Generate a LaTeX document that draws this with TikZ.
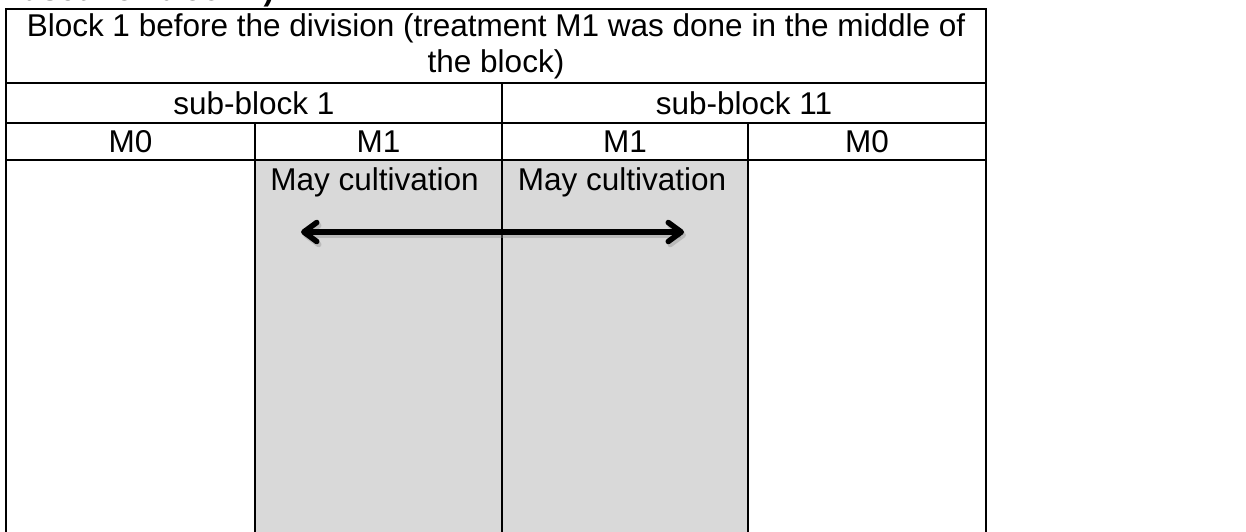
\documentclass[tikz,border=0pt]{standalone}
\usepackage{fontspec}
\setmainfont{Liberation Sans}
\usetikzlibrary{arrows.meta}
\definecolor{cellgray}{RGB}{217,217,217}
\definecolor{shadowgray}{RGB}{140,140,140}

\begin{document}
\begin{tikzpicture}[
    x=1pt, y=-1pt,
    cell/.style={draw, line width=2pt, inner sep=0pt, font=\fontsize{31.5}{36}\selectfont},
    graycell/.style={cell, fill=cellgray},
    label/.style={inner sep=0pt, font=\fontsize{31.5}{36}\selectfont},
    >={Straight Barb[length=13pt, width=19pt, round]}
]
    \useasboundingbox (0,0) rectangle (1246,531);
    \clip (0,0) rectangle (1246,531);

    % 标题 (上半部被截去)
    \node[label, font=\fontsize{31.5}{36}\selectfont\bfseries, anchor=base west] (title) at (22,0) {used for block 1)};

    % 第一行
    \node[cell, minimum width=980pt, minimum height=74pt, align=center] (head) at (496,46)
        {Block 1 before the division (treatment M1 was done in the middle of\\the block)};

    % 第二行
    \node[cell, minimum width=496pt, minimum height=40pt] (sub1) at (254,103) {sub-block 1};
    \node[cell, minimum width=484pt, minimum height=40pt] (sub11) at (744,103) {sub-block 11};

    % 第三行
    \node[cell, minimum width=249pt, minimum height=37pt] (m0a) at (130.5,141.5) {M0};
    \node[cell, minimum width=247pt, minimum height=37pt] (m1a) at (378.5,141.5) {M1};
    \node[cell, minimum width=246pt, minimum height=37pt] (m1b) at (625,141.5) {M1};
    \node[cell, minimum width=238pt, minimum height=37pt] (m0b) at (867,141.5) {M0};

    % 第四行 (下端被截去)
    \node[cell, minimum width=249pt, minimum height=400pt] (b0a) at (130.5,360) {};
    \node[graycell, minimum width=247pt, minimum height=400pt] (b1a) at (378.5,360) {};
    \node[graycell, minimum width=246pt, minimum height=400pt] (b1b) at (625,360) {};
    \node[cell, minimum width=238pt, minimum height=400pt] (b0b) at (867,360) {};

    \node[label, anchor=north] (maya) at ([xshift=-4pt, yshift=-8pt]b1a.north) {May cultivation};
    \node[label, anchor=north] (mayb) at ([xshift=-3pt, yshift=-8pt]b1b.north) {May cultivation};

    % 双向箭头 (带阴影)
    \coordinate (arrL) at (301,232);
    \coordinate (arrR) at (684,232);
    \draw[<->, line width=5.5pt, shadowgray, opacity=0.4] ([shift={(2,3)}]arrL) -- ([shift={(2,3)}]arrR);
    \draw[<->, line width=5.5pt] (arrL) -- (arrR);

\end{tikzpicture}
\end{document}
